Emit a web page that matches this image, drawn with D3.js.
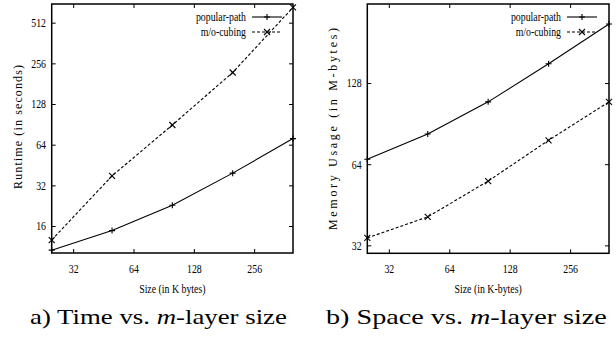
<!DOCTYPE html>
<html>
<head>
<meta charset="utf-8">
<script src="https://cdn.jsdelivr.net/npm/d3@7"></script>
<style>
    body { margin: 0; background: #fff; }
</style>
</head>
<body>
<div id="chart"></div>
<script>

// m-layer sizes (K bytes), shared by both panels
const sizes = [25, 50, 100, 200, 400];

// a) runtime in seconds
const timePopularPath = [10.6, 14.8, 22.8, 39.4, 71];
const timeMoCubing = [12.6, 37.6, 89.5, 219, 664];

// b) memory usage in M-bytes
const memPopularPath = [66.8, 82.8, 109, 151, 212];
const memMoCubing = [34.1, 40.8, 55.4, 78.5, 109];

const seriesNames = ["popular-path", "m/o-cubing"];
const xTicks = [32, 64, 128, 256];
const timeTicks = [16, 32, 64, 128, 256, 512];
const memTicks = [32, 64, 128];

const serif = "Liberation Serif";


class LayerChart {

    constructor(svg, opts) {
        this.svg = svg;
        this.opts = opts;
        this.initVis();
    }

    initVis() {
        let vis = this;
        let o = vis.opts;

        vis.x = d3.scaleLog().base(2).domain([25, 400]).range([o.left, o.right]);
        vis.y = d3.scaleLog().base(2).domain(o.yDomain).range([o.bottom, o.top]);

        vis.g = vis.svg.append("g");

        // gnuplot style: ticks inward on all four sides
        vis.g.append("g")
            .attr("transform", `translate(0,${o.bottom})`)
            .call(d3.axisBottom(vis.x).tickValues(xTicks).tickSize(-4).tickPadding(11).tickFormat(d3.format("d")));
        vis.g.append("g")
            .attr("transform", `translate(0,${o.top})`)
            .call(d3.axisTop(vis.x).tickValues(xTicks).tickSize(-4).tickFormat(""));
        vis.g.append("g")
            .attr("transform", `translate(${o.left},0)`)
            .call(d3.axisLeft(vis.y).tickValues(o.yTicks).tickSize(-4).tickPadding(7).tickFormat(d3.format("d")));
        vis.g.append("g")
            .attr("transform", `translate(${o.right},0)`)
            .call(d3.axisRight(vis.y).tickValues(o.yTicks).tickSize(-4).tickFormat(""));

        vis.g.selectAll(".domain").remove();
        vis.g.selectAll(".tick line").attr("stroke", "#000").attr("stroke-width", 1);
        vis.g.selectAll(".tick text")
            .attr("font-size", 12)
            .attr("font-family", serif)
            .attr("fill", "#000")
            .attr("transform", "scale(0.82,1)");

        vis.g.append("rect")
            .attr("x", o.left).attr("y", o.top)
            .attr("width", o.right - o.left).attr("height", o.bottom - o.top)
            .attr("fill", "none").attr("stroke", "#000").attr("stroke-width", 1.5);

        // axis titles
        vis.g.append("text")
            .attr("transform", `translate(${(o.left + o.right) / 2},${o.bottom + 40}) scale(0.82,1)`)
            .attr("text-anchor", "middle")
            .attr("font-size", 12)
            .attr("font-family", serif)
            .text(o.xLabel);

        vis.g.append("text")
            .attr("transform", `translate(${o.yLabelX},${o.yLabelY}) rotate(-90)`)
            .attr("text-anchor", "middle")
            .attr("font-size", 12)
            .attr("font-family", serif)
            .attr("textLength", o.yLabelLen)
            .attr("lengthAdjust", "spacing")
            .text(o.yLabel);

        vis.updateVis();
    }

    updateVis() {
        let vis = this;
        let o = vis.opts;

        let line = d3.line()
            .x(d => vis.x(d[0]))
            .y(d => vis.y(d[1]));

        let series = [
            {name: seriesNames[0], values: o.popular, dash: null, marker: "plus"},
            {name: seriesNames[1], values: o.cubing, dash: "3,2", marker: "cross"}
        ];

        series.forEach(function(s, i) {
            let pts = sizes.map((v, j) => [v, s.values[j]]);

            vis.g.append("path")
                .datum(pts)
                .attr("d", line)
                .attr("fill", "none")
                .attr("stroke", "#000")
                .attr("stroke-width", 1.1)
                .attr("stroke-dasharray", s.dash);

            vis.g.selectAll("path.mk" + i)
                .data(pts)
                .enter()
                .append("path")
                .attr("class", "mk" + i)
                .attr("d", vis.markerPath(s.marker))
                .attr("transform", d => `translate(${vis.x(d[0])},${vis.y(d[1])})`)
                .attr("stroke", "#000")
                .attr("stroke-width", 1.1)
                .attr("fill", "none");

            // legend row
            let ly = o.top + 13 + i * 15;
            vis.g.append("text")
                .attr("transform", `translate(${o.legendX - 6},${ly + 3.5}) scale(0.82,1)`)
                .attr("text-anchor", "end")
                .attr("font-size", 12)
                .attr("font-family", serif)
                .text(s.name);
            vis.g.append("line")
                .attr("x1", o.legendX).attr("x2", o.legendX + 30)
                .attr("y1", ly).attr("y2", ly)
                .attr("stroke", "#000")
                .attr("stroke-width", 1.1)
                .attr("stroke-dasharray", s.dash);
            vis.g.append("path")
                .attr("d", vis.markerPath(s.marker))
                .attr("transform", `translate(${o.legendX + 15},${ly})`)
                .attr("stroke", "#000")
                .attr("stroke-width", 1.1);
        });
    }

    markerPath(type) {
        let r = 3;
        if (type == "plus") return `M${-r},0H${r}M0,${-r}V${r}`;
        return `M${-r},${-r}L${r},${r}M${-r},${r}L${r},${-r}`;
    }
}


const W = 616, H = 339;
const svg = d3.select("#chart").append("svg").attr("width", W).attr("height", H);

new LayerChart(svg, {
    left: 51.7, right: 293, top: 4, bottom: 253,
    yDomain: [10.1, 704], yTicks: timeTicks,
    popular: timePopularPath, cubing: timeMoCubing,
    xLabel: "Size (in K bytes)",
    yLabel: "Runtime (in seconds)", yLabelX: 21.5, yLabelY: 127, yLabelLen: 124,
    legendX: 252
});

new LayerChart(svg, {
    left: 367.3, right: 609, top: 4, bottom: 253.3,
    yDomain: [29.9, 251.4], yTicks: memTicks,
    popular: memPopularPath, cubing: memMoCubing,
    xLabel: "Size (in K-bytes)",
    yLabel: "Memory Usage (in M-bytes)", yLabelX: 336.5, yLabelY: 129, yLabelLen: 202,
    legendX: 567
});

// figure captions, widened to the Computer Modern look of the original
const captions = [
    {label: "a) Time vs. ", x: 30, len: 257},
    {label: "b) Space vs. ", x: 326, len: 281}
];
captions.forEach(function(c) {
    let t = svg.append("text")
        .attr("font-size", 21)
        .attr("font-family", serif);
    t.append("tspan").text(c.label);
    t.append("tspan").attr("font-style", "italic").text("m");
    t.append("tspan").text("-layer size");
    let k = c.len / t.node().getComputedTextLength();
    t.attr("transform", `translate(${c.x},324) scale(${k},1)`);
});

</script>
</body>
</html>
